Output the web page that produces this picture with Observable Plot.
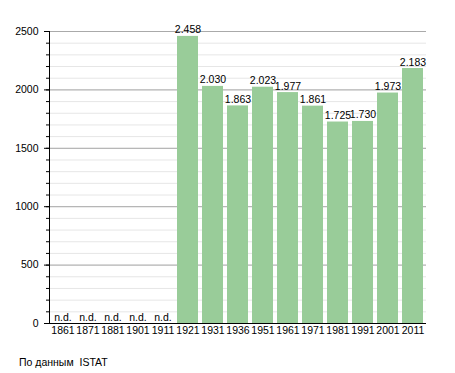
<!DOCTYPE html>
<html>
<head>
<meta charset="utf-8">
<script src="https://cdn.jsdelivr.net/npm/d3@7"></script>
<script src="https://cdn.jsdelivr.net/npm/@observablehq/plot@0.6"></script>
<style>
body { margin: 0; background: #fff; font-family: "Liberation Sans", Arial, sans-serif; }
#caption { font-size: 10.5px; color: #000; margin: 11px 0 0 19px; white-space: pre; line-height: 13px; }
</style>
</head>
<body>
<div id="chart"></div>
<div id="caption">По данным  ISTAT</div>
<script>
const years = ["1861","1871","1881","1901","1911","1921","1931","1936","1951","1961","1971","1981","1991","2001","2011"];
const population = [null,null,null,null,null,2458,2030,1863,2023,1977,1861,1725,1730,1973,2183];
const majorTicks = [0,500,1000,1500,2000,2500];
const minorTicks = d3.range(0, 2501, 100);

const data = years.map((y, i) => ({year: y, value: population[i]}));
const fmt = v => v == null ? "n.d." : d3.format(",")(v).replace(/,/g, ".");
const present = data.filter(d => d.value != null);
const missing = data.filter(d => d.value == null);

const chart = Plot.plot({
  width: 455,
  height: 345,
  marginTop: 31,
  marginBottom: 22,
  marginLeft: 49,
  marginRight: 29,
  style: {fontFamily: "Liberation Sans, Arial, sans-serif", fontSize: "10px", color: "#000"},
  x: {domain: years, paddingInner: 0.18, paddingOuter: 0, label: null},
  y: {domain: [0, 2500], label: null},
  marks: [
    Plot.ruleY(minorTicks, {stroke: "#e6e6e6", strokeWidth: 1, strokeOpacity: 1}),
    Plot.ruleY(majorTicks.filter(d => d > 0), {stroke: "#aaaaaa", strokeWidth: 1, strokeOpacity: 1}),
    Plot.barY(present, {x: "year", y: "value", fill: "#99cc99"}),
    Plot.text(present, {x: "year", y: "value", text: d => fmt(d.value), lineAnchor: "bottom", dy: -3, fontSize: 10.5, fill: "#000"}),
    Plot.text(missing, {x: "year", y: 0, text: d => fmt(d.value), lineAnchor: "bottom", dy: -3, fontSize: 10.5, fill: "#000"}),
    Plot.axisY({ticks: minorTicks, tickSize: 3, tickFormat: () => "", stroke: "#000", strokeOpacity: 1}),
    Plot.axisY({ticks: majorTicks, tickSize: 5, tickPadding: 6, tickFormat: d => String(d), stroke: "#000", strokeOpacity: 1, fontSize: 10.5}),
    Plot.axisX({tickSize: 0, tickPadding: 3, fontSize: 10.5}),
    Plot.ruleY([0], {stroke: "#000"}),
    Plot.frame({anchor: "left", stroke: "#000"})
  ]
});
document.getElementById("chart").appendChild(chart);
</script>
</body>
</html>
